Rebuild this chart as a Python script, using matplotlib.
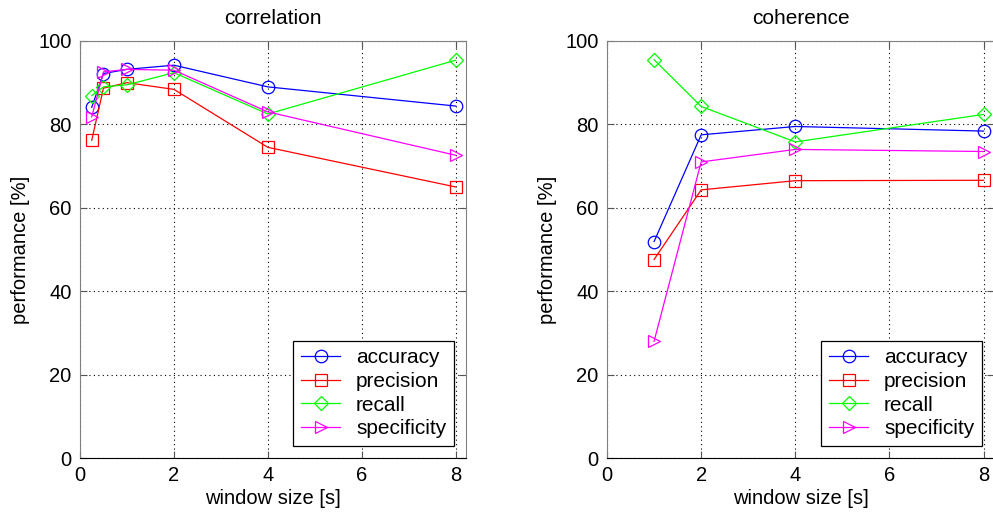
import matplotlib
matplotlib.use("Agg")
import matplotlib.pyplot as plt

plt.rcParams['font.family'] = ['Liberation Sans', 'DejaVu Sans']

# correlation panel
win_corr = [0.25, 0.5, 1, 2, 4, 8]
corr_accuracy = [84.1, 92.2, 93.2, 94.2, 89.0, 84.4]
corr_precision = [76.2, 88.7, 90.0, 88.4, 74.5, 65.0]
corr_recall = [86.9, 89.0, 89.5, 92.4, 82.5, 95.4]
corr_specificity = [81.8, 92.6, 93.2, 93.0, 83.0, 72.6]

# coherence panel
win_coh = [1, 2, 4, 8]
coh_accuracy = [51.9, 77.5, 79.5, 78.4]
coh_precision = [47.6, 64.3, 66.5, 66.6]
coh_recall = [95.5, 84.3, 75.8, 82.4]
coh_specificity = [28.0, 71.0, 74.0, 73.5]

names = ['accuracy', 'precision', 'recall', 'specificity']
colors = ['#0000ff', '#ff0000', '#00ff00', '#ff00ff']
markers = ['o', 's', 'D', '>']
msizes = [9, 8, 7, 9]

fig = plt.figure(figsize=(9.93, 5.15), dpi=100)
ax1 = fig.add_axes([80 / 993, 1 - 458 / 515, 386 / 993, 417 / 515])
ax2 = fig.add_axes([607 / 993, 1 - 458 / 515, 387 / 993, 417 / 515])


def draw(ax, x, series, title):
    for y, name, c, m, ms in zip(series, names, colors, markers, msizes):
        ax.plot(x, y, color=c, marker=m, markersize=ms, markerfacecolor='none',
                markeredgecolor=c, linewidth=0.9, markeredgewidth=0.9, label=name)
    ax.set_xlim(0, 8.22)
    ax.set_ylim(0, 100)
    ax.set_xticks([0, 2, 4, 6, 8])
    ax.set_yticks([0, 20, 40, 60, 80, 100])
    ax.grid(True, color='black', linestyle=(0, (1, 3)), linewidth=0.8)
    ax.tick_params(direction='in', top=True, right=True, labelsize=14.5, length=5,
                   color='#555555', pad=6)
    for s in ['left', 'right', 'top']:
        ax.spines[s].set_color('#808080')
    ax.spines['bottom'].set_color('black')
    ax.set_title(title, fontsize=15, pad=12)
    ax.set_xlabel('window size [s]', fontsize=14.5, labelpad=3)
    ax.set_ylabel('performance [%]', fontsize=14.5, labelpad=6)
    leg = ax.legend(loc='lower right', fontsize=15, fancybox=False, framealpha=1,
                    edgecolor='black', borderpad=0.35, labelspacing=0.22,
                    handlelength=1.9, handletextpad=0.75, borderaxespad=0.6)
    leg.get_frame().set_linewidth(0.9)


draw(ax1, win_corr, [corr_accuracy, corr_precision, corr_recall, corr_specificity], 'correlation')
draw(ax2, win_coh, [coh_accuracy, coh_precision, coh_recall, coh_specificity], 'coherence')

fig.savefig('out.png', dpi=100)
